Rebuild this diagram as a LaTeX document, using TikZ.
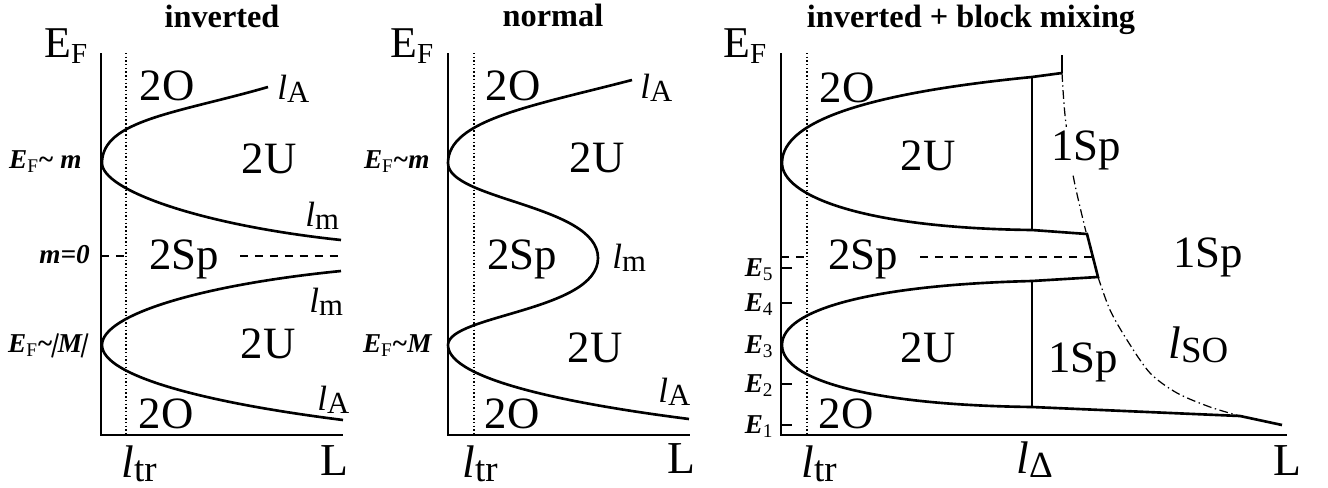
\documentclass[tikz,border=0pt]{standalone}
\usepackage{fontspec}
\setmainfont{Liberation Serif}
\usetikzlibrary{positioning}
\newcommand\EF{{\fontsize{25}{27}\selectfont E}\raisebox{-3.6pt}{\fontsize{16.5}{18}\selectfont F}}
\newcommand\lsm[1]{{\fontsize{20}{22}\selectfont\itshape l}\raisebox{-2.2pt}{\fontsize{17.5}{19}\selectfont #1}}
\newcommand\lbg[1]{{\fontsize{26}{28}\selectfont\itshape l}\raisebox{-2.6pt}{\fontsize{21}{23}\selectfont #1}}
\newcommand\Elbl[1]{E\raisebox{-2.6pt}{\normalfont\fontsize{11}{12}\selectfont #1}}
\newcommand\sbar{\makebox[0.2em]{\rotatebox[origin=c]{-14}{|}}}
\tikzset{
  axis/.style={line width=1.1pt},
  band/.style={line width=1.5pt},
  trline/.style={line width=0.6pt, dash pattern=on 0.8pt off 1.3pt},
  midline/.style={line width=0.8pt, dash pattern=on 4.5pt off 4pt},
  soline/.style={line width=0.7pt, dash pattern=on 5pt off 2pt on 0.8pt off 2pt},
  tck/.style={line width=0.9pt},
  reg/.style={font=\fontsize{25.5}{27}\selectfont, anchor=base, inner sep=0pt},
  axl/.style={font=\fontsize{26}{28}\selectfont, anchor=base, inner sep=0pt},
  ttl/.style={font=\bfseries\fontsize{18.4}{20}\selectfont, anchor=base, inner sep=0pt},
  side/.style={font=\bfseries\itshape\fontsize{15.5}{17}\selectfont, anchor=base east, inner sep=0pt},
  lbl/.style={anchor=base west, inner sep=0pt}
}
\begin{document}
\begin{tikzpicture}[x=0.02cm, y=-0.02cm]
  \useasboundingbox (0,0) rectangle (1328,487);

  % ---- inverted ----
  \draw[axis] (101,53) -- (101,435) -- (343,435);
  \draw[trline] (126,53) -- (126,435);
  \draw[band] (268,87) .. controls (178,113) and (102,120) .. (102,163)
    .. controls (102,190) and (200,225) .. (341,240);
  \draw[band] (341,271) .. controls (200,285) and (102,315) .. (102,345)
    .. controls (102,375) and (200,402) .. (343,420);
  \draw[midline] (101,256) -- (126,256);
  \draw[midline] (240,256) -- (343,256);

  \node[ttl] (ttlA) at (222,27) {inverted};
  \node[lbl] (efA) at (44,57) {\EF};
  \node[reg] (oA1) at (167,100) {2O};
  \node[reg] (uA1) at (269,173) {2U};
  \node[reg] (spA) at (184,269) {2Sp};
  \node[reg] (uA2) at (268,358) {2U};
  \node[reg] (oA2) at (166,428) {2O};
  \node[lbl] (laA1) at (277,99) {\lsm{A}};
  \node[lbl] (lmA1) at (305,226) {\lsm{m}};
  \node[lbl] (lmA2) at (309,312) {\lsm{m}};
  \node[lbl] (laA2) at (317,410) {\lsm{A}};
  \node[axl] (LA) at (334,475) {L};
  \node[lbl] (trA) at (121,477) {\lbg{tr}};
  \node[side] (smA) at (82,168) {\Elbl{F}\textasciitilde\ m};
  \node[side] (mzA) at (90,263) {m=0};
  \node[side] (sMA) at (88,352) {\Elbl{F}\textasciitilde\sbar M\sbar};

  % ---- normal ----
  \draw[axis] (448,53) -- (448,435) -- (690,435);
  \draw[trline] (474,53) -- (474,435);
  \draw[band] (632,80) .. controls (532,106) and (448,120) .. (448,163)
    .. controls (448,200) and (598,205) .. (598,258)
    .. controls (598,311) and (448,315) .. (448,345)
    .. controls (448,375) and (540,400) .. (689,419);

  \node[ttl] (ttlB) at (553,26) {normal};
  \node[lbl] (efB) at (390,57) {\EF};
  \node[reg] (oB1) at (513,100) {2O};
  \node[reg] (uB1) at (597,172) {2U};
  \node[reg] (spB) at (522,269) {2Sp};
  \node[reg] (uB2) at (595,362) {2U};
  \node[reg] (oB2) at (512,428) {2O};
  \node[lbl] (laB1) at (640,98) {\lsm{A}};
  \node[lbl] (lmB) at (612,268) {\lsm{m}};
  \node[lbl] (laB2) at (658,402) {\lsm{A}};
  \node[axl] (LB) at (681,473) {L};
  \node[lbl] (trB) at (462,477) {\lbg{tr}};
  \node[side] (smB) at (430,168) {\Elbl{F}\textasciitilde m};
  \node[side] (sMB) at (432,352) {\Elbl{F}\textasciitilde M};

  % ---- inverted + block mixing ----
  \draw[axis] (781,53) -- (781,435) -- (1287,435);
  \draw[trline] (807,53) -- (807,435);
  \draw[axis] (1062,55) -- (1062,73);
  \draw[band] (1062,73) -- (1032,77) .. controls (880,92) and (782,118) .. (782,163)
    .. controls (782,195) and (860,228) .. (1032,230) -- (1087,234) -- (1098,277)
    -- (1032,281) .. controls (870,285) and (782,310) .. (782,345)
    .. controls (782,380) and (870,405) .. (1032,407) -- (1240,416) -- (1282,425);
  \draw[axis] (1032,77) -- (1032,230);
  \draw[axis] (1032,281) -- (1032,407);
  \draw[midline] (781,257) -- (807,257);
  \draw[midline] (920,257) -- (1092,257);
  \foreach \y in {268,303,384,425}
    \draw[tck] (781,\y) -- (792,\y);
  \draw[soline] plot[smooth] coordinates {(1062,73) (1065,115) (1073,175) (1086,232)};
  \draw[soline] plot[smooth] coordinates {(1098,277) (1110,310) (1127,340) (1150,373)
    (1177,393) (1210,407) (1240,416)};

  \node[ttl] (ttlC) at (971,27) {inverted + block mixing};
  \node[lbl] (efC) at (723,57) {\EF};
  \node[reg] (oC1) at (847,102) {2O};
  \node[reg] (uC1) at (928,170) {2U};
  \node[reg, fill=white, inner sep=2pt] (spC1) at (1086,160) {1Sp};
  \node[reg] (spC) at (863,269) {2Sp};
  \node[reg] (spC2) at (1208,267) {1Sp};
  \node[reg] (uC2) at (928,362) {2U};
  \node[reg] (spC3) at (1083,372) {1Sp};
  \node[reg] (oC2) at (846,428) {2O};
  \node[lbl] (soC) at (1168,358) {\lbg{SO}};
  \node[lbl] (trC) at (801,477) {\lbg{tr}};
  \node[lbl] (dlC) at (1016,473) {\lbg{Δ}};
  \node[axl] (LC) at (1287,475) {L};
  \foreach \k/\y in {5/268,4/303,3/345,2/384,1/425}
    \node[side] (E\k) at (773,\y+8) {\Elbl{\k}};
\end{tikzpicture}
\end{document}
